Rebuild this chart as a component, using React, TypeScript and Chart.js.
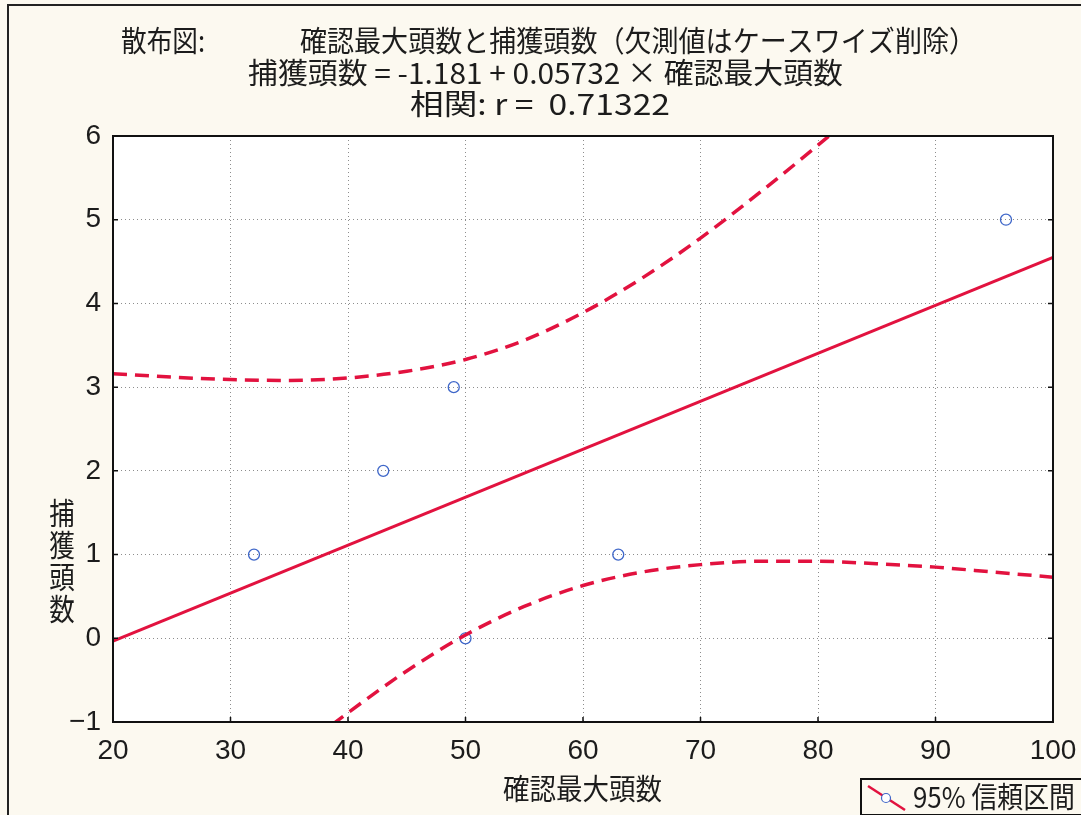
import React, { useEffect, useRef } from "react";
import { Chart, registerables } from "chart.js";

Chart.register(...registerables);

// ---- data ----
const xValues = [32, 43, 49, 50, 63, 96];
const yValues = [1, 2, 3, 0, 1, 5];

const fitX = [20, 100];
const fitY = [-0.035, 4.551];

const bandX = [20, 25, 30, 35, 40, 45, 50, 55, 60, 65, 70, 75, 80, 85, 90, 95, 100];
const upperBand = [3.16, 3.12, 3.09, 3.08, 3.11, 3.19, 3.33, 3.56, 3.89, 4.3, 4.78, 5.32, 5.89, 6.49, 7.11, 7.74, 8.38];
const lowerBand = [-3.23, -2.61, -2.01, -1.43, -0.89, -0.39, 0.04, 0.38, 0.63, 0.79, 0.88, 0.92, 0.92, 0.89, 0.85, 0.79, 0.73];

const xTicks = [20, 30, 40, 50, 60, 70, 80, 90, 100];
const yTicks = [-1, 0, 1, 2, 3, 4, 5, 6];

const titleHead = "散布図:";
const titleMain = "確認最大頭数と捕獲頭数（欠測値はケースワイズ削除）";
const titleEq = "捕獲頭数 = -1.181 + 0.05732 × 確認最大頭数";
const titleCorr = "相関: r =  0.71322";
const xTitle = "確認最大頭数";
const yTitle = "捕獲頭数";
const legendLabel = "95% 信頼区間";

const RED = "#e2123f";
const BLUE = "#3f67c9";
const INK = "#1c1c1c";
const CREAM = "#fcf9f0";
const CJK = '"Noto Sans CJK JP", "Noto Sans", sans-serif';
const LAT = '"Liberation Sans", Arial, sans-serif';

function drawFit(
  ctx: CanvasRenderingContext2D,
  text: string,
  left: number,
  midY: number,
  font: string,
  width: number
) {
  ctx.save();
  ctx.font = font;
  ctx.textAlign = "left";
  ctx.textBaseline = "middle";
  const w = ctx.measureText(text).width;
  const sx = width / w;
  ctx.translate(left, midY);
  ctx.scale(sx, 1);
  ctx.fillStyle = INK;
  ctx.fillText(text, 0, 0);
  ctx.restore();
}

const decor = {
  id: "decor",
  beforeDraw(chart: any) {
    const { ctx, chartArea: a, width, height } = chart;
    ctx.save();
    ctx.fillStyle = CREAM;
    ctx.fillRect(0, 0, width, height);
    ctx.fillStyle = "#ffffff";
    ctx.fillRect(a.left, a.top, a.right - a.left, a.bottom - a.top);
    // outer frame
    ctx.strokeStyle = "#222";
    ctx.lineWidth = 2;
    ctx.beginPath();
    ctx.moveTo(8, height);
    ctx.lineTo(8, 5);
    ctx.lineTo(width, 5);
    ctx.stroke();
    ctx.restore();
  },
  afterDraw(chart: any) {
    const { ctx, chartArea: a, scales } = chart;
    ctx.save();
    // plot border
    ctx.strokeStyle = "#111";
    ctx.lineWidth = 2;
    ctx.strokeRect(a.left, a.top, a.right - a.left, a.bottom - a.top);
    // inward ticks
    ctx.lineWidth = 1.5;
    ctx.beginPath();
    for (const v of xTicks) {
      const px = scales.x.getPixelForValue(v);
      ctx.moveTo(px, a.bottom);
      ctx.lineTo(px, a.bottom - 5);
    }
    for (const v of yTicks) {
      const py = scales.y.getPixelForValue(v);
      ctx.moveTo(a.left, py);
      ctx.lineTo(a.left + 5, py);
      ctx.moveTo(a.right, py);
      ctx.lineTo(a.right - 5, py);
    }
    ctx.stroke();

    // titles
    drawFit(ctx, titleHead, 121, 41, `29px ${CJK}`, 84);
    drawFit(ctx, titleMain, 300, 41, `29px ${CJK}`, 676);
    drawFit(ctx, titleEq, 248, 73, `29px ${CJK}`, 595);
    drawFit(ctx, titleCorr, 410, 104, `29px ${CJK}`, 260);

    // x axis title
    drawFit(ctx, xTitle, 503, 789, `29px ${CJK}`, 159);

    // y axis title, stacked upright
    ctx.font = `30px ${CJK}`;
    ctx.fillStyle = INK;
    ctx.textAlign = "center";
    ctx.textBaseline = "middle";
    const chars = Array.from(yTitle);
    chars.forEach((c, i) => {
      ctx.save();
      ctx.translate(62, 513 + i * 32);
      ctx.scale(0.85, 1);
      ctx.fillText(c, 0, 0);
      ctx.restore();
    });

    // legend
    ctx.fillStyle = CREAM;
    ctx.fillRect(861, 779, 230, 36);
    ctx.strokeStyle = "#111";
    ctx.lineWidth = 2;
    ctx.strokeRect(861, 779, 230, 36);
    ctx.strokeStyle = RED;
    ctx.lineWidth = 2.5;
    ctx.beginPath();
    ctx.moveTo(868, 786);
    ctx.lineTo(905, 810);
    ctx.stroke();
    ctx.fillStyle = "#fff";
    ctx.strokeStyle = BLUE;
    ctx.lineWidth = 1.2;
    ctx.beginPath();
    ctx.arc(886, 798, 4.5, 0, Math.PI * 2);
    ctx.fill();
    ctx.stroke();
    drawFit(ctx, legendLabel, 913, 797, `29px ${CJK}`, 162);
    ctx.restore();
  },
};

export default function App() {
  const ref = useRef<HTMLCanvasElement>(null);
  useEffect(() => {
    if (!ref.current) return;
    const toPts = (xs: number[], ys: number[]) => xs.map((x, i) => ({ x, y: ys[i] }));
    const chart = new Chart(ref.current, {
      type: "scatter",
      data: {
        datasets: [
          {
            label: "upper",
            data: toPts(bandX, upperBand),
            showLine: true,
            borderColor: RED,
            borderWidth: 3.5,
            borderDash: [14, 8],
            pointRadius: 0,
            cubicInterpolationMode: "monotone",
            clip: 0,
          } as any,
          {
            label: "lower",
            data: toPts(bandX, lowerBand),
            showLine: true,
            borderColor: RED,
            borderWidth: 3.5,
            borderDash: [14, 8],
            pointRadius: 0,
            cubicInterpolationMode: "monotone",
            clip: 0,
          } as any,
          {
            label: "fit",
            data: toPts(fitX, fitY),
            showLine: true,
            borderColor: RED,
            borderWidth: 3,
            pointRadius: 0,
            clip: 0,
          } as any,
          {
            label: "obs",
            data: toPts(xValues, yValues),
            showLine: false,
            pointRadius: 5.5,
            pointBorderColor: BLUE,
            pointBackgroundColor: "rgba(255,255,255,0)",
            pointBorderWidth: 1.3,
          } as any,
        ],
      },
      options: {
        responsive: false,
        animation: false,
        devicePixelRatio: 1,
        layout: { padding: { left: 0, top: 136, right: 28, bottom: 0 } },
        plugins: {
          legend: { display: false },
          title: { display: false },
          tooltip: { enabled: false },
        },
        scales: {
          x: {
            type: "linear",
            min: 20,
            max: 100,
            afterBuildTicks: (s: any) => {
              s.ticks = xTicks.map((v) => ({ value: v }));
            },
            afterFit: (s: any) => {
              s.height = 93;
              s.paddingLeft = 0;
              s.paddingRight = 0;
            },
            ticks: {
              padding: 12,
              color: INK,
              font: { family: LAT, size: 28 },
            },
            grid: { color: "#8d8d8d", lineWidth: 1, drawTicks: false },
            border: { display: false, dash: [1, 3] },
          },
          y: {
            type: "linear",
            min: -1,
            max: 6,
            afterBuildTicks: (s: any) => {
              s.ticks = yTicks.map((v) => ({ value: v }));
            },
            afterFit: (s: any) => {
              s.width = 113;
              s.paddingTop = 0;
              s.paddingBottom = 0;
            },
            ticks: {
              padding: 12,
              color: INK,
              font: { family: LAT, size: 28 },
              callback: (v: any) => (Number(v) < 0 ? "\u2212" + Math.abs(Number(v)) : String(v)),
            },
            grid: { color: "#8d8d8d", lineWidth: 1, drawTicks: false },
            border: { display: false, dash: [1, 3] },
          },
        },
      },
      plugins: [decor],
    });
    return () => chart.destroy();
  }, []);
  return (
    <div style={{ position: "absolute", left: 0, top: 0, width: 1081, height: 815 }}>
      <canvas ref={ref} width={1081} height={815} style={{ display: "block" }} />
    </div>
  );
}
